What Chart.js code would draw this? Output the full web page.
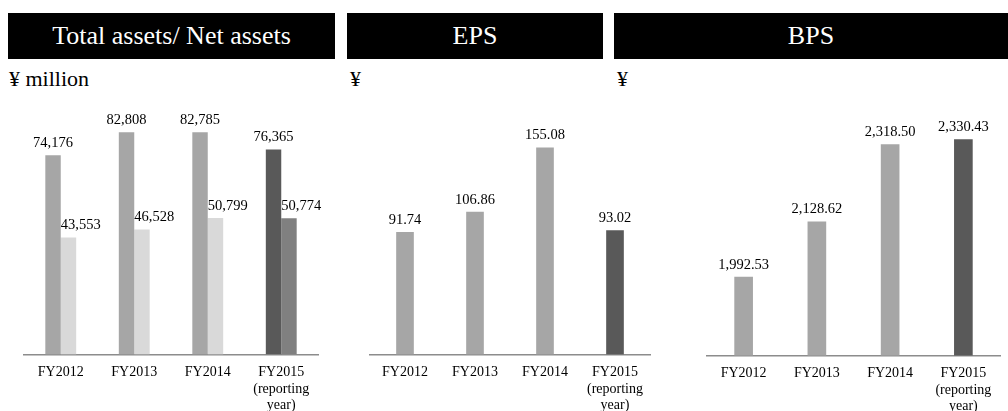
<!DOCTYPE html>
<html>
<head>
<meta charset="utf-8">
<script src="https://cdn.jsdelivr.net/npm/chart.js@4.4.1/dist/chart.umd.min.js"></script>
<style>
  body { margin: 0; width: 1008px; height: 411px; overflow: hidden; background: #fff; }
  .head { position: absolute; top: 13px; height: 46px; background: #000; color: #fff; font-family: 'Liberation Serif', 'DejaVu Serif', serif; font-size: 26px; line-height: 46px; text-align: center; }
  .unit { position: absolute; top: 66px; font-family: 'Liberation Serif', 'DejaVu Serif', serif; font-size: 22px; color: #000; }
  .box { position: absolute; top: 60px; height: 365px; }
</style>
</head>
<body>
<div class="head" style="left:8px;width:327px">Total assets/ Net assets</div>
<div class="head" style="left:347px;width:256px">EPS</div>
<div class="head" style="left:614px;width:394px">BPS</div>
<div class="unit" style="left:9px">¥ million</div>
<div class="unit" style="left:350px">¥</div>
<div class="unit" style="left:617px">¥</div>

<div class="box" style="left:8px;width:327px"><canvas id="assetsChart"></canvas></div>
<div class="box" style="left:345px;width:320px"><canvas id="epsChart"></canvas></div>
<div class="box" style="left:680px;width:328px"><canvas id="bpsChart"></canvas></div>

<script>
// data
const years = [['FY2012'], ['FY2013'], ['FY2014'], ['FY2015', '(reporting', 'year)']];
const totalAssets = [74176, 82808, 82785, 76365];
const netAssets = [43553, 46528, 50799, 50774];
const eps = [91.74, 106.86, 155.08, 93.02];
const bps = [1992.53, 2128.62, 2318.50, 2330.43];

// last year is highlighted darker
const totalColors = ['#a6a6a6', '#a6a6a6', '#a6a6a6', '#595959'];
const netColors = ['#d9d9d9', '#d9d9d9', '#d9d9d9', '#808080'];
const singleColors = ['#a6a6a6', '#a6a6a6', '#a6a6a6', '#595959'];

const serif = "'Liberation Serif', 'DejaVu Serif', serif";

// draws the value above each bar
const valueLabels = {
    id: 'valueLabels',
    afterDatasetsDraw(chart, args, opts) {
        const ctx = chart.ctx;
        ctx.save();
        ctx.font = '14.5px ' + serif;
        ctx.fillStyle = '#000';
        ctx.textBaseline = 'bottom';
        chart.data.datasets.forEach((ds, i) => {
            const meta = chart.getDatasetMeta(i);
            meta.data.forEach((bar, j) => {
                const txt = ds.data[j].toLocaleString('en-US', {
                    minimumFractionDigits: opts.decimals,
                    maximumFractionDigits: opts.decimals
                });
                if (ds.labelAlign === 'left') {
                    ctx.textAlign = 'left';
                    ctx.fillText(txt, bar.x - bar.width / 2, bar.y - 5);
                } else {
                    ctx.textAlign = 'center';
                    ctx.fillText(txt, bar.x, bar.y - 5);
                }
            });
        });
        ctx.restore();
    }
};

function makeOptions(min, max, pad, decimals) {
    return {
        responsive: true,
        maintainAspectRatio: false,
        animation: false,
        layout: { padding: pad },
        plugins: {
            legend: { display: false },
            tooltip: { enabled: false },
            valueLabels: { decimals: decimals }
        },
        scales: {
            x: {
                grid: { display: false, drawTicks: false },
                border: { display: true, color: '#8c8c8c', width: 1.5 },
                ticks: {
                    color: '#000',
                    padding: 10,
                    maxRotation: 0,
                    autoSkip: false,
                    font: { family: serif, size: 14, lineHeight: '16.5px' }
                }
            },
            y: { display: false, min: min, max: max }
        }
    };
}

new Chart(document.getElementById('assetsChart'), {
    type: 'bar',
    data: {
        labels: years,
        datasets: [{
            label: 'Total assets',
            data: totalAssets,
            backgroundColor: totalColors,
            categoryPercentage: 0.42,
            barPercentage: 1.0
        }, {
            label: 'Net assets',
            data: netAssets,
            backgroundColor: netColors,
            categoryPercentage: 0.42,
            barPercentage: 1.0,
            labelAlign: 'left'
        }]
    },
    options: makeOptions(0, 100000, { top: 26, left: 16, right: 17, bottom: 1 }, 0),
    plugins: [valueLabels]
});

new Chart(document.getElementById('epsChart'), {
    type: 'bar',
    data: {
        labels: years,
        datasets: [{
            label: 'EPS',
            data: eps,
            backgroundColor: singleColors,
            barThickness: 17
        }]
    },
    options: makeOptions(0, 200, { top: 28, left: 25, right: 15, bottom: 1 }, 2),
    plugins: [valueLabels]
});

new Chart(document.getElementById('bpsChart'), {
    type: 'bar',
    data: {
        labels: years,
        datasets: [{
            label: 'BPS',
            data: bps,
            backgroundColor: singleColors,
            barThickness: 18
        }]
    },
    options: makeOptions(1800, 2450, { top: 31, left: 27, right: 8, bottom: 0 }, 2),
    plugins: [valueLabels]
});
</script>
</body>
</html>
